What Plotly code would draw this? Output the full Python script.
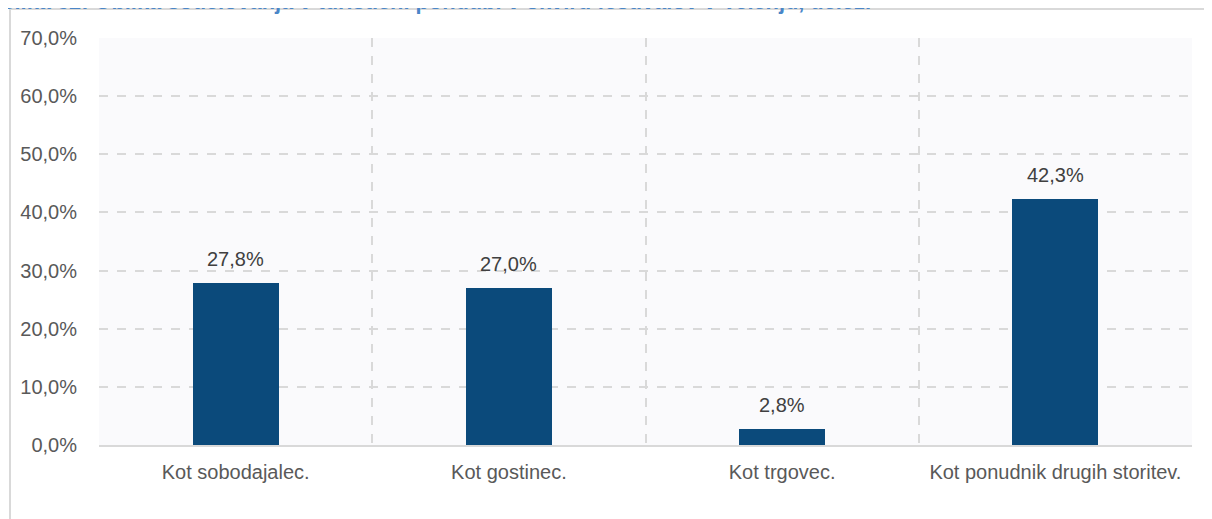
import plotly.graph_objects as go

categories = ["Kot sobodajalec.", "Kot gostinec.", "Kot trgovec.", "Kot ponudnik drugih storitev."]
values = [27.8, 27.0, 2.8, 42.3]
y_ticks = [0, 10, 20, 30, 40, 50, 60, 70]
y_tick_labels = ["0,0%", "10,0%", "20,0%", "30,0%", "40,0%", "50,0%", "60,0%", "70,0%"]
title_text = "Slika 32: Oblika sodelovanja v turistični ponudbi v okviru festivalov v Velenju, delež."

xpos = list(range(len(categories)))
labels = [f"{v:.1f}%".replace(".", ",") for v in values]

FONT = "Liberation Sans, Arial, sans-serif"
W, H = 1212, 519
OFF = 8  # page body margin
L, R, T, B = 99 - OFF, 20 + OFF, 38 - OFF, 74 + OFF
pw, ph = W - L - R, H - T - B

fig = go.Figure()
fig.add_trace(go.Bar(
    x=xpos, y=values, width=0.315,
    marker=dict(color="#0b4a7b", line=dict(width=0)),
))

for xi, v, lab in zip(xpos, values, labels):
    fig.add_annotation(x=xi, y=v, xref="x", yref="y", text=lab, showarrow=False,
                       yanchor="bottom", yshift=11,
                       font=dict(family=FONT, size=20, color="#404040"))

fig.update_layout(
    width=W, height=H,
    margin=dict(l=L, r=R, t=T, b=B, pad=0),
    paper_bgcolor="white", plot_bgcolor="#fafafc",
    showlegend=False,
    font=dict(family=FONT, size=20, color="#595959"),
    xaxis=dict(
        range=[-0.5, 3.5], tickvals=xpos, ticktext=categories,
        showgrid=False, zeroline=False, ticks="", ticklabelstandoff=8,
        showline=True, linecolor="#d9d9d9", linewidth=2,
        tickfont=dict(family=FONT, size=20, color="#595959"),
        minor=dict(tickvals=[-0.5, 0.5, 1.5, 2.5, 3.5], showgrid=True,
                   gridcolor="#d9d9d9", griddash="dash", gridwidth=1.5, ticks=""),
    ),
    yaxis=dict(
        range=[0, 70], tickvals=y_ticks, ticktext=y_tick_labels,
        showgrid=True, gridcolor="#d9d9d9", griddash="dash", gridwidth=1.5,
        zeroline=False, ticks="", ticklabelstandoff=21,
        tickfont=dict(family=FONT, size=20, color="#595959"),
    ),
    bargap=0,
)

# outer frame
fig.add_shape(type="rect", xref="paper", yref="paper",
              x0=(10 - OFF - L) / pw, x1=(W + 20 - L) / pw,
              y0=(-(H + 20 - T - ph)) / ph, y1=1 + (T - (9 - OFF)) / ph,
              line=dict(color="#d9d9d9", width=2), fillcolor="rgba(0,0,0,0)", layer="below")

fig.add_annotation(
    text=title_text, xref="paper", yref="paper",
    x=(-2 - OFF - L) / pw, y=1 + (T + 6) / ph, xanchor="left", yanchor="middle",
    showarrow=False, font=dict(family=FONT, size=21.8, color="#4a86c8", weight="bold"),
)

fig.write_html("out.html")
